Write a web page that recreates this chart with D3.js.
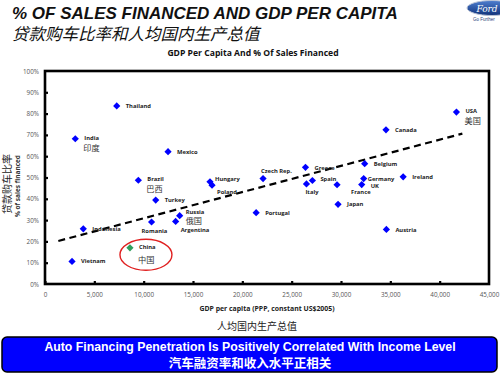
<!DOCTYPE html>
<html>
<head>
<meta charset="utf-8">
<script src="https://cdn.jsdelivr.net/npm/d3@7"></script>
<style>
  body { margin: 0; background: #fff; }
  svg { display: block; }
</style>
</head>
<body>
<div id="chart"></div>
<script>
// Data
const countries = ['Thailand', 'India', 'Mexico', 'Brazil', 'Turkey', 'Hungary', 'Poland', 'Russia',
    'Indonesia', 'Romania', 'Argentina', 'China', 'Vietnam', 'Czech Rep.', 'Greece', 'Spain', 'Italy',
    'France', 'Portugal', 'Japan', 'USA', 'Canada', 'Belgium', 'Germany', 'UK', 'Ireland', 'Austria'];
const gdpPerCapita = [7270, 3070, 12470, 9460, 11220, 16720, 16930, 13650,
    3880, 10800, 13240, 8610, 2740, 22100, 26400, 27100, 26500,
    29600, 21400, 29700, 41700, 34560, 32400, 32300, 32100, 36300, 34600];
const pctFinanced = [83.6, 68.2, 62.1, 48.7, 39.4, 48.0, 46.4, 32.1,
    25.9, 29.1, 29.4, 17.0, 10.6, 49.5, 54.8, 48.6, 47.0,
    46.6, 33.5, 37.4, 80.7, 72.4, 56.5, 49.5, 46.7, 50.3, 25.6];
const chineseNames = { 'India': '印度', 'Brazil': '巴西', 'Russia': '俄国', 'China': '中国', 'USA': '美国' };
const trendX = [1350, 42300];
const trendY = [20.2, 70.6];
const xTicks = [0, 5000, 10000, 15000, 20000, 25000, 30000, 35000, 40000, 45000];
const yTicks = [0, 10, 20, 30, 40, 50, 60, 70, 80, 90, 100];

// label placement tweaks (pixels, relative to the marker)
const labelOffset = {
    'Russia': [6, -4], 'Hungary': [5, -3], 'Poland': [5, 7], 'Argentina': [5, 9],
    'Romania': [-10, 9], 'Czech Rep.': [-2, -8], 'Italy': [-1, 8], 'France': [14, 7],
    'Germany': [4, 0], 'UK': [9, 1], 'Spain': [8, -2], 'Greece': [9, 1],
    'India': [9, -1], 'Brazil': [9, -1], 'USA': [9, -1], 'China': [9, -1]
};

const W = 500, H = 374;
const margin = { top: 71, right: 11, bottom: 90, left: 45 };
const width = W - margin.left - margin.right;
const height = H - margin.top - margin.bottom;

const svg = d3.select('#chart').append('svg')
    .attr('width', W)
    .attr('height', H);

// Page titles
svg.append('text')
    .attr('x', 12).attr('y', 18.5)
    .style('font-family', '"Liberation Sans", Arial, sans-serif')
    .style('font-size', '17px')
    .style('font-weight', 'bold')
    .style('font-style', 'italic')
    .attr('fill', '#111')
    .text('% OF SALES FINANCED AND GDP PER CAPITA');
svg.append('text')
    .attr('x', 12).attr('y', 39.5)
    .style('font-family', '"Noto Sans CJK SC", sans-serif')
    .style('font-size', '16.5px')
    .style('font-style', 'italic')
    .attr('fill', '#111')
    .text('贷款购车比率和人均国内生产总值');

// Ford logo (rough)
const defs = svg.append('defs');
const grad = defs.append('linearGradient').attr('id', 'fordGrad')
    .attr('x1', 0).attr('y1', 0).attr('x2', 0).attr('y2', 1);
grad.append('stop').attr('offset', '0%').attr('stop-color', '#4f7fd0');
grad.append('stop').attr('offset', '100%').attr('stop-color', '#10327a');
svg.append('ellipse')
    .attr('cx', 492).attr('cy', 8).attr('rx', 25).attr('ry', 7.5)
    .attr('fill', 'url(#fordGrad)')
    .attr('stroke', '#b8c2d6').attr('stroke-width', 1);
svg.append('text')
    .attr('x', 487).attr('y', 11.5)
    .attr('text-anchor', 'middle')
    .style('font-family', '"DejaVu Serif", serif')
    .style('font-size', '9px')
    .style('font-style', 'italic')
    .attr('fill', '#fff')
    .text('Ford');
svg.append('text')
    .attr('x', 473).attr('y', 20.5)
    .style('font-family', '"Liberation Sans", Arial, sans-serif')
    .style('font-size', '4.5px')
    .attr('fill', '#2a3f7a')
    .text('Go Further');

// Chart title
svg.append('text')
    .attr('x', 253).attr('y', 56)
    .attr('text-anchor', 'middle')
    .style('font-family', '"Open Sans", sans-serif')
    .style('font-size', '8.6px')
    .style('font-weight', 'bold')
    .attr('fill', '#111')
    .text('GDP Per Capita And % Of Sales Financed');

const g = svg.append('g')
    .attr('transform', `translate(${margin.left},${margin.top})`);

const x = d3.scaleLinear().domain([0, 45000]).range([0, width]);
const y = d3.scaleLinear().domain([0, 100]).range([height, 0]);

// Axes
const xAxis = g.append('g')
    .attr('transform', `translate(0,${height})`)
    .call(d3.axisBottom(x).tickValues(xTicks).tickSize(-3).tickPadding(9).tickFormat(d3.format(',')));
const yAxis = g.append('g')
    .call(d3.axisLeft(y).tickValues(yTicks).tickSize(-3).tickPadding(6).tickFormat(d => d + '%'));
[xAxis, yAxis].forEach(a => {
    a.select('.domain').remove();
    a.selectAll('.tick line').attr('stroke', '#000').attr('stroke-width', 2.2);
    a.selectAll('.tick text')
        .style('font-family', '"Open Sans", sans-serif')
        .style('font-size', '6.3px')
        .attr('fill', '#555');
});
xAxis.selectAll('.tick').filter(d => d === 45000).select('line').remove();
yAxis.selectAll('.tick').filter(d => d === 100 || d === 0).select('line').remove();

// Plot box
g.append('rect')
    .attr('x', 0).attr('y', 0)
    .attr('width', width).attr('height', height)
    .attr('fill', 'none')
    .attr('stroke', '#000')
    .attr('stroke-width', 2.6);

// Trend line
g.append('line')
    .attr('x1', x(trendX[0])).attr('y1', y(trendY[0]))
    .attr('x2', x(trendX[1])).attr('y2', y(trendY[1]))
    .attr('stroke', '#000')
    .attr('stroke-width', 2.2)
    .attr('stroke-dasharray', '7,4.5');

// Points
const points = countries.map((c, i) => ({ name: c, gdp: gdpPerCapita[i], pct: pctFinanced[i] }));

g.selectAll('.pt')
    .data(points)
    .enter().append('path')
    .attr('class', 'pt')
    .attr('d', d3.symbol(d3.symbolSquare, 26))
    .attr('transform', d => `translate(${x(d.gdp)},${y(d.pct)}) rotate(45)`)
    .attr('fill', d => d.name === 'China' ? '#2f9e5c' : '#0000ff');

// Labels
g.selectAll('.lbl')
    .data(points)
    .enter().append('text')
    .attr('class', 'lbl')
    .attr('x', d => x(d.gdp) + (labelOffset[d.name] ? labelOffset[d.name][0] : 9))
    .attr('y', d => y(d.pct) + (labelOffset[d.name] ? labelOffset[d.name][1] : 0))
    .attr('dy', '0.35em')
    .style('font-family', '"Open Sans", sans-serif')
    .style('font-size', '5.8px')
    .style('font-weight', 'bold')
    .attr('fill', '#222')
    .text(d => d.name);

g.selectAll('.cn')
    .data(points.filter(d => chineseNames[d.name]))
    .enter().append('text')
    .attr('class', 'cn')
    .attr('x', d => x(d.gdp) + (d.name === 'Russia' ? 6 : 8))
    .attr('y', d => y(d.pct) + (d.name === 'China' ? 12 : (d.name === 'Russia' ? 6 : 9)))
    .attr('dy', '0.35em')
    .style('font-family', '"Noto Sans CJK SC", sans-serif')
    .style('font-size', '8.2px')
    .attr('fill', '#333')
    .text(d => chineseNames[d.name]);

// Red ellipse around China
const china = points.find(d => d.name === 'China');
g.append('ellipse')
    .attr('cx', x(china.gdp) + 16)
    .attr('cy', y(china.pct) + 7)
    .attr('rx', 26).attr('ry', 15.5)
    .attr('fill', 'none')
    .attr('stroke', '#e02020')
    .attr('stroke-width', 1.4);

// Axis titles
svg.append('text')
    .attr('x', 267).attr('y', 311)
    .attr('text-anchor', 'middle')
    .style('font-family', '"Open Sans", sans-serif')
    .style('font-size', '6.9px')
    .style('font-weight', 'bold')
    .attr('fill', '#222')
    .text('GDP per capita (PPP, constant US$2005)');
svg.append('text')
    .attr('x', 257).attr('y', 330)
    .attr('text-anchor', 'middle')
    .style('font-family', '"Noto Sans CJK SC", sans-serif')
    .style('font-size', '10px')
    .attr('fill', '#222')
    .text('人均国内生产总值');
svg.append('text')
    .attr('transform', 'translate(11,184) rotate(-90)')
    .attr('text-anchor', 'middle')
    .style('font-family', '"Noto Sans CJK SC", sans-serif')
    .style('font-size', '10px')
    .attr('fill', '#222')
    .text('贷款购车比率');
svg.append('text')
    .attr('transform', 'translate(19.5,186) rotate(-90)')
    .attr('text-anchor', 'middle')
    .style('font-family', '"Open Sans", sans-serif')
    .style('font-size', '6.5px')
    .style('font-weight', 'bold')
    .attr('fill', '#333')
    .text('% of sales financed');

// Bottom banner
svg.append('rect')
    .attr('x', 2).attr('y', 337)
    .attr('width', 495).attr('height', 35)
    .attr('rx', 5)
    .attr('fill', '#0000ff')
    .attr('stroke', '#000')
    .attr('stroke-width', 1.5);
svg.append('text')
    .attr('x', 250).attr('y', 351)
    .attr('text-anchor', 'middle')
    .style('font-family', '"Liberation Sans", Arial, sans-serif')
    .style('font-size', '12.3px')
    .style('font-weight', 'bold')
    .attr('fill', '#fff')
    .text('Auto Financing Penetration Is Positively Correlated With Income Level');
svg.append('text')
    .attr('x', 250).attr('y', 367.5)
    .attr('text-anchor', 'middle')
    .style('font-family', '"Noto Sans CJK SC", sans-serif')
    .style('font-size', '12.5px')
    .style('font-weight', 'bold')
    .attr('fill', '#fff')
    .text('汽车融资率和收入水平正相关');
</script>
</body>
</html>
